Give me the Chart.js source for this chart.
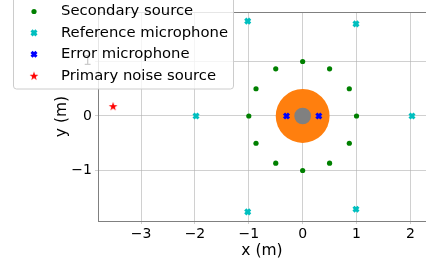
<!DOCTYPE html>
<html>
<head>
<meta charset="utf-8">
<script src="https://cdn.jsdelivr.net/npm/chart.js@4"></script>
<style>
  html, body { margin: 0; padding: 0; background: #fff; }
  canvas { display: block; }
</style>
</head>
<body>
<canvas id="plot" width="426" height="267"></canvas>
<script>
// secondary sources (ring of 12)
const secX = [1, 0.866, 0.5, 0, -0.5, -0.866, -1, -0.866, -0.5, 0, 0.5, 0.866];
const secY = [0, 0.5, 0.866, 1, 0.866, 0.5, 0, -0.5, -0.866, -1, -0.866, -0.5];
// reference microphones
const refX = [-1.02, 0.99, 2.03, -1.98, -1.02, 0.99];
const refY = [1.74, 1.69, 0, 0, -1.76, -1.71];
// error microphones
const errX = [-0.3, 0.3];
const errY = [0, 0];
// primary noise source
const priX = [-3.52];
const priY = [0.18];
// head patches: centre and radius in metres
const patchX = [0, 0];
const patchY = [0, 0];
const patchR = [0.5, 0.155];

const labels = ['Secondary source', 'Reference microphone', 'Error microphone', 'Primary noise source'];
const xTicks = [-3, -2, -1, 0, 1, 2];
const yTicks = [-1, 0, 1];

const FONT = "'DejaVu Sans', sans-serif";
const gridColor = 'rgba(176,176,176,0.6)';
const spineColor = '#808080';

function pts(xs, ys) {
    return xs.map((x, i) => ({ x: x, y: ys[i] }));
}

function makeStar(r, color) {
    const c = document.createElement('canvas');
    const s = Math.ceil(r * 2 + 2);
    c.width = s; c.height = s;
    const g = c.getContext('2d');
    g.beginPath();
    for (let i = 0; i < 10; i++) {
        const rr = i % 2 ? r * 0.4 : r;
        const a = -Math.PI / 2 + i * Math.PI / 5;
        const px = s / 2 + rr * Math.cos(a);
        const py = s / 2 + r * 0.1 + rr * Math.sin(a);
        if (i === 0) g.moveTo(px, py); else g.lineTo(px, py);
    }
    g.closePath();
    g.fillStyle = color;
    g.fill();
    return c;
}
const star = makeStar(4.6, '#ff0000');

// radius in pixels of a patch given in metres
function patchPx(i) {
    return ctx => {
        const s = ctx.chart.scales.x;
        return Math.abs(s.getPixelForValue(patchR[i]) - s.getPixelForValue(0));
    };
}

const legendBox = {
    id: 'legendBox',
    afterDraw(chart) {
        const c = chart.ctx;
        c.save();
        c.beginPath();
        c.roundRect(13.5, -3, 220, 92, 3);
        c.fillStyle = 'rgba(255,255,255,0.8)';
        c.fill();
        c.strokeStyle = '#cccccc';
        c.lineWidth = 1;
        c.stroke();
        for (let i = 0; i < 4; i++) {
            const ds = chart.data.datasets[i];
            const y = 11.5 + i * 21.4;
            c.fillStyle = ds.pointBackgroundColor;
            c.strokeStyle = ds.pointBorderColor;
            c.lineWidth = ds.pointBorderWidth;
            Chart.helpers.drawPoint(c, {
                pointStyle: ds.pointStyle,
                radius: ds.pointRadius,
                borderWidth: ds.pointBorderWidth,
                rotation: 0
            }, 34, y);
            c.fillStyle = '#000';
            c.font = '14.8px ' + FONT;
            c.textAlign = 'left';
            c.textBaseline = 'middle';
            c.fillText(ds.label, 61, y);
        }
        c.restore();
    }
};

new Chart(document.getElementById('plot'), {
    type: 'scatter',
    data: {
        datasets: [
            {
                label: labels[0], data: pts(secX, secY),
                pointStyle: 'circle', pointRadius: 2.6, pointBorderWidth: 0,
                pointBackgroundColor: '#008000', pointBorderColor: '#008000'
            },
            {
                label: labels[1], data: pts(refX, refY),
                pointStyle: 'crossRot', pointRadius: 3.5, pointBorderWidth: 3,
                pointBackgroundColor: '#00bfbf', pointBorderColor: '#00bfbf'
            },
            {
                label: labels[2], data: pts(errX, errY),
                pointStyle: 'crossRot', pointRadius: 3.5, pointBorderWidth: 3,
                pointBackgroundColor: '#0000ff', pointBorderColor: '#0000ff'
            },
            {
                label: labels[3], data: pts(priX, priY),
                pointStyle: star, pointRadius: 5, pointBorderWidth: 0,
                pointBackgroundColor: '#ff0000', pointBorderColor: '#ff0000'
            },
            {
                label: 'head', data: pts(patchX.slice(1), patchY.slice(1)),
                pointStyle: 'circle', pointRadius: patchPx(1), pointBorderWidth: 0,
                pointBackgroundColor: '#808080'
            },
            {
                label: 'zone', data: pts(patchX.slice(0, 1), patchY.slice(0, 1)),
                pointStyle: 'circle', pointRadius: patchPx(0), pointBorderWidth: 0,
                pointBackgroundColor: '#ff7f0e'
            }
        ]
    },
    options: {
        responsive: false,
        animation: false,
        devicePixelRatio: 1,
        layout: { autoPadding: false, padding: { top: 12, right: 0, left: 0, bottom: 0 } },
        plugins: { legend: { display: false }, tooltip: { enabled: false } },
        scales: {
            x: {
                type: 'linear', position: 'bottom', min: -3.8, max: 2.29, z: 1,
                afterBuildTicks: s => { s.ticks = xTicks.map(v => ({ value: v })); },
                afterFit: s => { s.height = 46; s.paddingRight = 0; s.paddingLeft = 0; },
                grid: { color: gridColor, tickLength: 3, tickColor: gridColor },
                border: { color: spineColor, width: 1 },
                ticks: { color: '#000', font: { family: FONT, size: 14 }, padding: 2, maxRotation: 0, autoSkip: false,
                    callback: v => String(v).replace('-', '\u2212') },
                title: { display: true, text: 'x (m)', color: '#000', font: { family: FONT, size: 15.5 }, padding: { top: 0, bottom: 7 } }
            },
            xTop: {
                type: 'linear', position: 'top', min: -3.8, max: 2.29,
                afterFit: s => { s.height = 0; s.paddingRight = 0; s.paddingLeft = 0; },
                grid: { display: false },
                border: { color: spineColor, width: 1 },
                ticks: { display: false }
            },
            y: {
                type: 'linear', position: 'left', min: -1.927, max: 1.908, z: 1,
                afterBuildTicks: s => { s.ticks = yTicks.map(v => ({ value: v })); },
                afterFit: s => { s.width = 98; s.paddingTop = 0; s.paddingBottom = 0; },
                grid: { color: gridColor, tickLength: 3, tickColor: gridColor },
                border: { color: spineColor, width: 1 },
                ticks: { color: '#000', font: { family: FONT, size: 14 }, padding: 3,
                    callback: v => String(v).replace('-', '\u2212') },
                title: { display: true, text: 'y (m)', color: '#000', font: { family: FONT, size: 15.5 }, padding: { top: 53, bottom: 0 } }
            }
        }
    },
    plugins: [legendBox]
});
</script>
</body>
</html>
